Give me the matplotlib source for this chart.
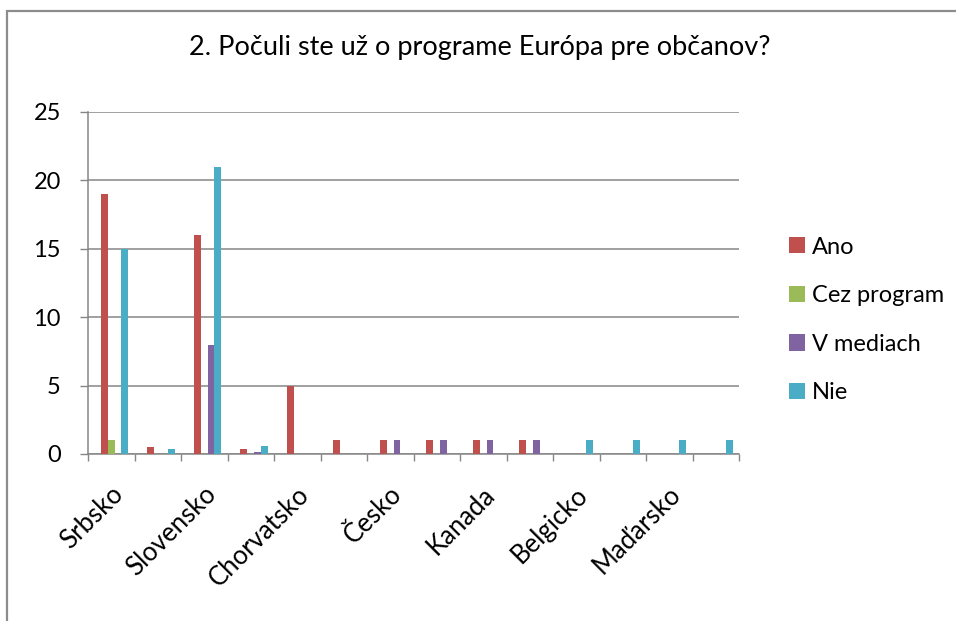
import matplotlib
matplotlib.use("Agg")
import matplotlib.pyplot as plt
import matplotlib.transforms as mtransforms
import numpy as np
from matplotlib.patches import Rectangle

plt.rcParams['font.family'] = ['Lato', 'DejaVu Sans']

title = "2. Počuli ste už o programe Európa pre občanov?"
categories = ["Srbsko", "", "Slovensko", "", "Chorvatsko", "", "Česko", "",
              "Kanada", "", "Belgicko", "", "Maďarsko", ""]
series_names = ["Ano", "Cez program", "V mediach", "Nie"]
ano = [19, 0.5, 16, 0.4, 5, 1, 1, 1, 1, 1, 0, 0, 0, 0]
cez = [1, 0, 0, 0, 0, 0, 0, 0, 0, 0, 0, 0, 0, 0]
v_mediach = [0, 0, 8, 0.15, 0, 0, 1, 1, 1, 1, 0, 0, 0, 0]
nie = [15, 0.4, 21, 0.55, 0, 0, 0, 0, 0, 0, 1, 1, 1, 1]
colors = ["#C0504D", "#9BBB59", "#8064A2", "#4BACC6"]
y_ticks = [0, 5, 10, 15, 20, 25]

W, H = 956, 621
fig = plt.figure(figsize=(W / 100, H / 100), dpi=100)
fig.patch.set_facecolor("white")

# outer chart frame
fig.patches.append(Rectangle((7 / W, -0.2), 2.0, 1.2 - 11 / H, transform=fig.transFigure,
                             fill=False, edgecolor="#8c8c8c", linewidth=1.6))

ax = fig.add_axes([88 / W, 1 - 454 / H, (739 - 88) / W, (454 - 112) / H])
x = np.arange(len(categories))
bw = 0.15
offsets = [-0.155, -0.005, 0.145, 0.295]
for vals, name, c, off in zip([ano, cez, v_mediach, nie], series_names, colors, offsets):
    ax.bar(x + off, vals, width=bw, color=c, label=name, zorder=3)

ax.set_xlim(-0.5, len(categories) - 0.5)
ax.set_ylim(0, 25)
ax.set_yticks(y_ticks)
ax.tick_params(axis="y", length=5.5, width=1.0, color="#868686", labelsize=17, pad=14)
ax.yaxis.grid(True, color="#868686", linewidth=1.1, zorder=0)
ax.set_axisbelow(True)

ax.set_xticks(x[::2])
ax.set_xticklabels(categories[::2], rotation=45, ha="right", rotation_mode="anchor")
ax.set_xticks(np.arange(-0.5, len(categories), 1), minor=True)
ax.tick_params(axis="x", which="major", length=0, labelsize=18.5, pad=20)
ax.tick_params(axis="x", which="minor", length=5, width=1.0, color="#868686")
shift = mtransforms.ScaledTranslation(-1 / 100, 0, fig.dpi_scale_trans)
for lbl in ax.get_xticklabels():
    lbl.set_transform(lbl.get_transform() + shift)

for s in ["top", "right"]:
    ax.spines[s].set_visible(False)
for s in ["left", "bottom"]:
    ax.spines[s].set_color("#868686")
    ax.spines[s].set_linewidth(1.1)

fig.text(480 / W, 1 - 47 / H, title, ha="center", va="center", fontsize=19.5)

ax.legend(loc="center left", bbox_to_anchor=(768 / W, 1 - 320 / H), bbox_transform=fig.transFigure,
          frameon=False, fontsize=17, handlelength=0.68, handleheight=0.68,
          handletextpad=0.28, labelspacing=1.17)

fig.savefig("out.png", dpi=100)
